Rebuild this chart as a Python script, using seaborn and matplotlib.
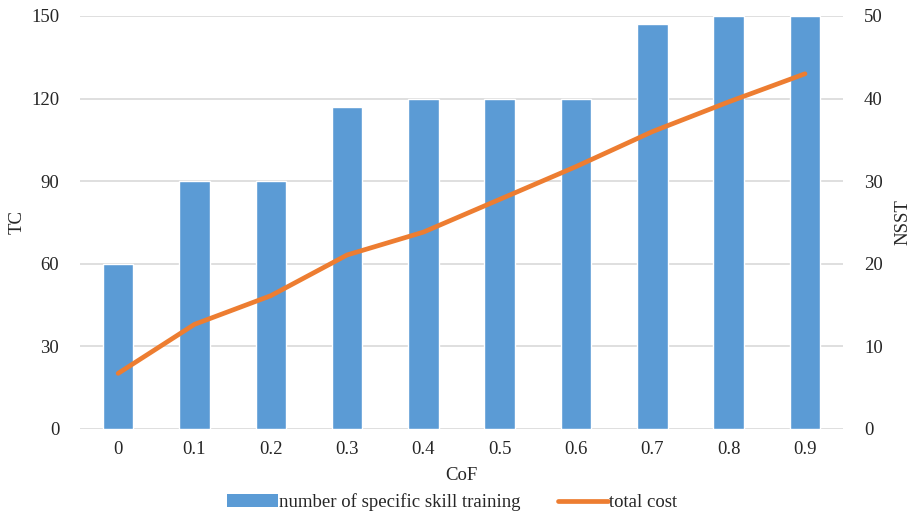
import matplotlib
matplotlib.use("Agg")
import matplotlib.pyplot as plt
import seaborn as sns
import pandas as pd
from matplotlib.patches import Patch
from matplotlib.lines import Line2D

cof = ["0", "0.1", "0.2", "0.3", "0.4", "0.5", "0.6", "0.7", "0.8", "0.9"]
nsst = [20, 30, 30, 39, 40, 40, 40, 49, 50, 50]
tc = [20.2, 38.0, 48.4, 63.2, 71.5, 83.4, 95.3, 108.0, 118.8, 129.0]
tc_ticks = [0, 30, 60, 90, 120, 150]
nsst_ticks = [0, 10, 20, 30, 40, 50]

df = pd.DataFrame({"CoF": cof, "NSST": nsst, "TC": tc})

sns.set_theme(style="white")
plt.rcParams["font.family"] = ["Liberation Serif", "DejaVu Serif"]
FS = 13.5
plt.rcParams["font.size"] = FS

bar_color = "#5B9BD5"
line_color = "#ED7D31"
grid_color = "#D9D9D9"

fig = plt.figure(figsize=(9.14, 5.15), dpi=100)
ax = fig.add_axes([0.0875, 0.167, 0.835, 0.802])

# bars on the NSST (right) axis
sns.barplot(data=df, x="CoF", y="NSST", color=bar_color, width=0.4,
            saturation=1, ax=ax, zorder=2)
ax.set_ylim(0, 50)
ax.set_yticks(nsst_ticks)
ax.set_xlim(-0.5, len(cof) - 0.5)
ax.set_xlabel("CoF", fontsize=FS, labelpad=6)
ax.grid(axis="y", color=grid_color, linewidth=1.2)
ax.set_axisbelow(True)
for s in ax.spines.values():
    s.set_visible(False)

# line on the TC (left) axis
ax2 = ax.twinx()
sns.lineplot(data=df, x="CoF", y="TC", color=line_color, linewidth=3.4,
             sort=False, ax=ax2, solid_capstyle="round")
ax2.set_ylim(0, 150)
ax2.set_yticks(tc_ticks)
ax2.yaxis.tick_left()
ax2.yaxis.set_label_position("left")
ax2.set_ylabel("TC", fontsize=FS)
ax2.yaxis.set_label_coords(-0.071, 0.5)
ax2.tick_params(axis="y", length=0, labelsize=FS, pad=15)
for s in ax2.spines.values():
    s.set_visible(False)
ax2.grid(False)

# now move the bar axis ticks to the right (twinx resets them)
ax.yaxis.tick_right()
ax.yaxis.set_label_position("right")
ax.set_ylabel("NSST", fontsize=FS)
ax.yaxis.set_label_coords(1.067, 0.5)
ax.tick_params(axis="both", length=0, labelsize=FS)
ax.tick_params(axis="y", pad=15)
ax.tick_params(axis="x", pad=9)

handles = [Patch(facecolor=bar_color, edgecolor="none"),
           Line2D([0], [0], color=line_color, linewidth=3.4)]
labels = ["number of specific skill training", "total cost"]
fig.legend(handles, labels, loc="center", bbox_to_anchor=(0.495, 0.025),
           ncol=2, frameon=False, fontsize=FS, handlelength=2.7,
           handletextpad=0.05, columnspacing=2.0)

fig.savefig("out.png", dpi=100)
